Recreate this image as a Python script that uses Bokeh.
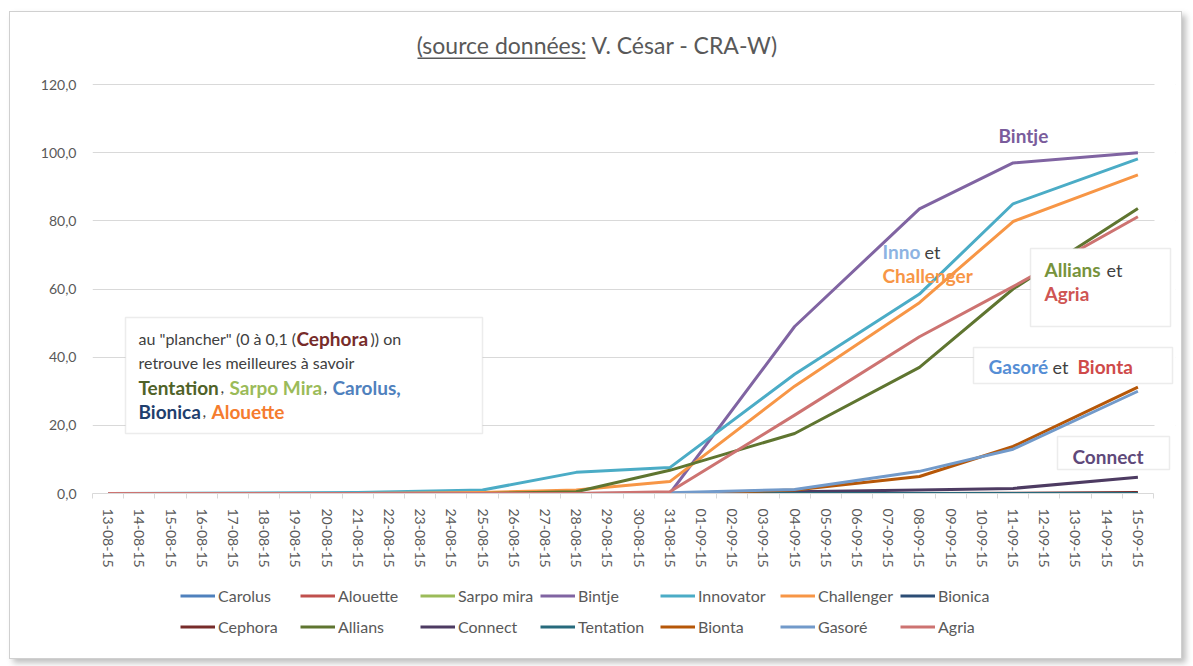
from bokeh.plotting import figure
from bokeh.layouts import column
from bokeh.models import Range1d, FixedTicker, Label, BoxAnnotation, Legend, LegendItem
from bokeh.embed import file_html
from bokeh.resources import INLINE

# ---------------- data ----------------
all_dates = ["13-08-15", "14-08-15", "15-08-15", "16-08-15", "17-08-15", "18-08-15",
             "19-08-15", "20-08-15", "21-08-15", "22-08-15", "23-08-15", "24-08-15",
             "25-08-15", "26-08-15", "27-08-15", "28-08-15", "29-08-15", "30-08-15",
             "31-08-15", "01-09-15", "02-09-15", "03-09-15", "04-09-15", "05-09-15",
             "06-09-15", "07-09-15", "08-09-15", "09-09-15", "10-09-15", "11-09-15",
             "12-09-15", "13-09-15", "14-09-15", "15-09-15"]
obs_dates = ["13-08-15", "21-08-15", "25-08-15", "28-08-15", "31-08-15",
             "04-09-15", "08-09-15", "11-09-15", "15-09-15"]

carolus    = [0, 0, 0, 0, 0, 0, 0, 0, 0]
alouette   = [0, 0, 0, 0, 0, 0, 0, 0, 0]
sarpo_mira = [0, 0, 0, 0, 0, 0, 0, 0, 0]
bintje     = [0, 0, 0, 0, 0, 49.0, 83.5, 97.0, 100.0]
innovator  = [0, 0.3, 1.0, 6.2, 7.6, 35.0, 58.5, 85.0, 98.2]
challenger = [0, 0, 0.3, 1.0, 3.5, 31.5, 56.0, 79.8, 93.5]
bionica    = [0, 0, 0, 0, 0, 0, 0, 0, 0]
cephora    = [0, 0, 0, 0, 0, 0, 0, 0.1, 0.3]
allians    = [0, 0, 0, 0.5, 6.8, 17.6, 37.0, 60.0, 83.6]
connect    = [0, 0, 0, 0, 0, 0.5, 1.0, 1.5, 4.8]
tentation  = [0, 0, 0, 0, 0, 0, 0, 0, 0]
bionta     = [0, 0, 0, 0, 0, 1.0, 5.0, 13.8, 31.2]
gasore     = [0, 0, 0, 0, 0.2, 1.2, 6.5, 13.0, 30.0]
agria      = [0, 0, 0, 0, 0.5, 23.0, 46.0, 60.7, 81.2]

series_names = ["Carolus", "Alouette", "Sarpo mira", "Bintje", "Innovator", "Challenger",
                "Bionica", "Cephora", "Allians", "Connect", "Tentation", "Bionta",
                "Gasoré", "Agria"]
series_values = [carolus, alouette, sarpo_mira, bintje, innovator, challenger, bionica,
                 cephora, allians, connect, tentation, bionta, gasore, agria]
series_colors = ["#4f81bd", "#c0504d", "#9bbb59", "#8064a2", "#4bacc6", "#f79646",
                 "#2c4d75", "#772c2a", "#5f7530", "#4d3b62", "#276a7c", "#b65708",
                 "#729aca", "#cd7371"]

y_ticks = [0, 20, 40, 60, 80, 100, 120]
y_tick_labels = ["0,0", "20,0", "40,0", "60,0", "80,0", "100,0", "120,0"]
Y_MAX = 120

# ---------------- layout ----------------
OX, OY = 10, 12            # page position of the chart
CW = 1171                  # chart width
SPLIT, BOTTOM = 575, 658   # page y where the legend strip starts / chart ends
L, R, T, B = 92, 1153, 84, 493   # plot area (as in the reference) in page pixels
FR, FT = 1175, 28                 # drawable frame extends right/up for the text boxes
LEG_LEFT = 180                    # page x of the legend boxes
ROW_TOPS = (575, 606)             # page y of the two legend rows
ROW_H = 31
FONT = "Lato"
GREY = "#595959"
DARK = "#404040"

PXX = (R - L) / len(all_dates)      # pixels per category
PXY = (B - T) / Y_MAX               # pixels per unit

def XD(px):
    return -0.5 + (px - L) / PXX

def YD(py):
    return (B - py) / PXY

p = figure(frame_width=FR - L, frame_height=B - FT,
           output_backend="svg", toolbar_location=None,
           x_range=Range1d(-0.5, XD(FR)), y_range=Range1d(0, YD(FT)),
           min_border_left=L - OX, min_border_right=OX + CW - FR,
           min_border_top=FT - OY, min_border_bottom=SPLIT - B)
p.outline_line_color = None
p.background_fill_color = "white"
p.border_fill_color = "white"

xs = [all_dates.index(d) for d in obs_dates]
for name, vals, col in zip(series_names, series_values, series_colors):
    p.line(xs, vals, line_color=col, line_width=3, line_join="round")

# axes
p.xaxis.bounds = (-0.5, len(all_dates) - 0.5)
p.xaxis.ticker = FixedTicker(ticks=list(range(len(all_dates))),
                             minor_ticks=[i - 0.5 for i in range(len(all_dates) + 1)])
p.xaxis.major_label_overrides = {i: d for i, d in enumerate(all_dates)}
p.xaxis.major_label_orientation = "vertical"
p.xaxis.major_tick_line_color = None
p.xaxis.major_tick_in = 0
p.xaxis.major_tick_out = 0
p.xaxis.minor_tick_in = 0
p.xaxis.minor_tick_out = 5
p.xaxis.minor_tick_line_color = "#d9d9d9"
p.xaxis.axis_line_color = "#d9d9d9"
p.xaxis.major_label_standoff = 10
p.xaxis.major_label_text_color = GREY
p.xaxis.major_label_text_font = FONT
p.xaxis.major_label_text_font_size = "14px"

p.yaxis.ticker = FixedTicker(ticks=y_ticks, minor_ticks=[])
p.yaxis.major_label_overrides = {t: s for t, s in zip(y_ticks, y_tick_labels)}
p.yaxis.axis_line_color = None
p.yaxis.major_tick_line_color = None
p.yaxis.major_tick_in = 0
p.yaxis.major_tick_out = 0
p.yaxis.minor_tick_line_color = None
p.yaxis.major_label_standoff = 16
p.yaxis.major_label_text_color = GREY
p.yaxis.major_label_text_font = FONT
p.yaxis.major_label_text_font_size = "14px"

p.xgrid.grid_line_color = None
p.ygrid.grid_line_color = "#d9d9d9"

# hide the grid lines beyond the plot area on the right
p.add_layout(BoxAnnotation(left=len(all_dates) - 0.5 + 1 / PXX, right=XD(FR + 5),
                           bottom=YD(B + 5), top=YD(FT),
                           fill_color="white", fill_alpha=1, line_color=None))

def box(l, r, t, b, fill="white", line="#bfbfbf"):
    p.add_layout(BoxAnnotation(left=XD(l), right=XD(r), top=YD(t), bottom=YD(b),
                               fill_color=fill, fill_alpha=1,
                               line_color=line, line_width=1.5))

def txt(x, y, s, color=DARK, bold=False, size="16px"):
    p.add_layout(Label(x=XD(x), y=YD(y), text=s, text_align="left",
                       text_baseline="middle", text_font=FONT, text_font_size=size,
                       text_color=color, text_font_style="bold" if bold else "normal"))

# title
p.add_layout(Label(x=XD(597), y=YD(44), text="(source données: V. César - CRA-W)",
                   text_align="center", text_baseline="middle", text_font=FONT,
                   text_font_size="23px", text_color=GREY))
box(417, 585, 57, 58.5, fill=GREY, line=None)

# left box
box(125, 482, 317, 433)
txt(138, 338, "au \"plancher\" (0 à 0,1 (")
txt(296, 338, "Cephora", "#772c2a", True, "19px")
txt(370, 338, ")) on")
txt(138, 362, "retrouve les meilleures à savoir")
txt(138, 387, "Tentation", "#4f6228", True, "19px")
txt(220, 387, ",")
txt(229, 387, "Sarpo Mira", "#9bbb59", True, "19px")
txt(323, 387, ",")
txt(332, 387, "Carolus,", "#4f81bd", True, "19px")
txt(138, 411, "Bionica", "#1f3f6e", True, "19px")
txt(202, 411, ",")
txt(211, 411, "Alouette", "#f57c2e", True, "19px")

# Bintje
txt(998, 135, "Bintje", "#7a5c9c", True, "19px")
# Inno et Challenger
txt(882, 251, "Inno", "#8db3e2", True, "19px")
txt(924, 251, "et", DARK, False, "18px")
txt(882, 275, "Challenger", "#f79646", True, "19px")
# Allians et Agria
box(1030, 1170, 248, 326)
txt(1044, 269, "Allians", "#77933c", True, "19px")
txt(1106, 269, "et", DARK, False, "18px")
txt(1044, 293, "Agria", "#cf5553", True, "19px")
# Gasoré et Bionta
box(973, 1172, 347, 383)
txt(988, 366, "Gasoré", "#558ed5", True, "19px")
txt(1052, 366, "et", DARK, False, "18px")
txt(1077, 366, "Bionta", "#cf4a4a", True, "19px")
# Connect
box(1057, 1169, 436, 469)
txt(1072, 456, "Connect", "#5f497a", True, "19px")

# ---------------- legend strip (same frame columns as the chart) ----------------
LF_H = BOTTOM - SPLIT
lf = figure(frame_width=FR - L, frame_height=LF_H,
            output_backend="svg", toolbar_location=None,
            x_axis_type=None, y_axis_type=None,
            x_range=Range1d(-0.5, XD(FR)), y_range=Range1d(1000, 1001),
            min_border_left=L - OX, min_border_right=OX + CW - FR,
            min_border_top=0, min_border_bottom=0)
lf.outline_line_color = None
lf.background_fill_color = "white"
lf.border_fill_color = "white"

# same series in the strip (outside its visible y range) to provide legend swatches
leg_renderers = [lf.line(xs, vals, line_color=c, line_width=3)
                 for vals, c in zip(series_values, series_colors)]
items = [LegendItem(label=n, renderers=[r]) for n, r in zip(series_names, leg_renderers)]
for row, top in ((items[:7], ROW_TOPS[0]), (items[7:], ROW_TOPS[1])):
    vy = BOTTOM - top - ROW_H
    lg = Legend(items=row, orientation="horizontal", location=(LEG_LEFT - L, vy),
                border_line_color=None, background_fill_alpha=0,
                label_text_font=FONT, label_text_font_size="16px",
                label_text_color=GREY, glyph_width=35, glyph_height=21,
                label_height=21, label_width=80, label_standoff=3, spacing=2,
                margin=0, padding=5)
    lf.add_layout(lg, "center")

layout = column(p, lf, spacing=0)
layout.styles = {"margin-left": "9px", "margin-top": "11px",
                 "border": "1px solid #d0d0d0",
                 "box-shadow": "4px 4px 6px rgba(0,0,0,0.25)"}

open("out.html", "w").write(file_html(layout, INLINE))
